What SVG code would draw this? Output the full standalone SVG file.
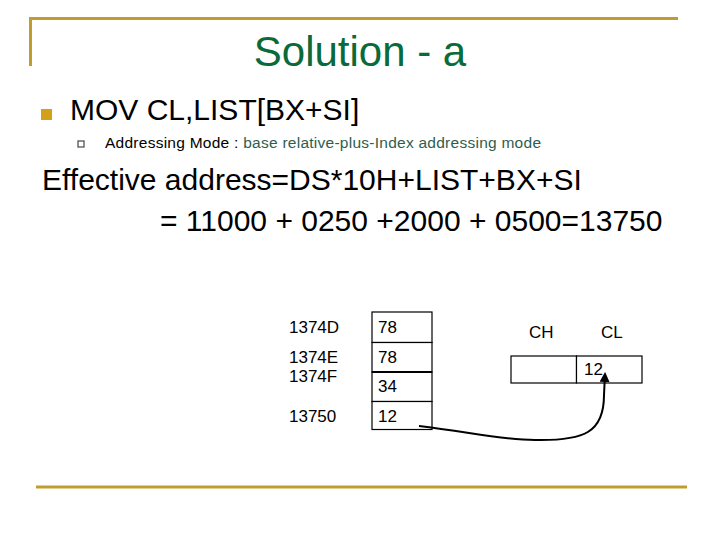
<svg xmlns="http://www.w3.org/2000/svg" width="720" height="540" viewBox="0 0 720 540">
<style>
text{font-family:"Liberation Sans",Arial,sans-serif;fill:#000}
.rule{stroke:#BF9D2E;stroke-width:3;fill:none}
.cell{fill:#fff;stroke:#000;stroke-width:1.2}
.lbl{font-size:17px}
.val{font-size:17px}
</style>
<defs>
<marker id="ah" viewBox="0 0 10 10" refX="8" refY="5" markerWidth="5" markerHeight="5" orient="auto">
<path d="M0,0 L10,5 L0,10 z" fill="#000"/>
</marker>
</defs>
<rect width="720" height="540" fill="#fff"/>
<g id="frame">
<path class="rule" d="M30.5,66 V18.5 H678"/>
<line class="rule" x1="36" y1="487" x2="687" y2="487"/>
</g>
<g id="title"><text x="360" y="66" font-size="42" text-anchor="middle" style="fill:#0A6A3A">Solution - a</text></g>
<g id="bullets">
<rect x="41" y="109" width="11" height="11" fill="#D4A017"/>
<text x="70" y="120" font-size="30">MOV CL,LIST[BX+SI]</text>
<rect x="78" y="141" width="6" height="6" fill="none" stroke="#4A5A4A" stroke-width="1.3"/>
<text x="105" y="148" font-size="15.5" textLength="436">Addressing Mode : <tspan style="fill:#2E5E4E">base relative-plus-Index addressing mode</tspan></text>
<text x="42" y="190" font-size="30">Effective address=DS*10H+LIST+BX+SI</text>
<text x="160" y="231" font-size="30">= 11000 + 0250 +2000 + 0500=13750</text>
</g>
<g id="memory">
<rect class="cell" x="372" y="312" width="60" height="30.5"/>
<rect class="cell" x="372" y="342.5" width="60" height="29.5"/>
<rect class="cell" x="372" y="372" width="60" height="29.5"/>
<rect class="cell" x="372" y="401.5" width="60" height="28"/>
<line x1="372" y1="372" x2="432" y2="372" stroke="#000" stroke-width="2"/>
<text class="lbl" x="289" y="333">1374D</text>
<text class="lbl" x="289" y="363">1374E</text>
<text class="lbl" x="289" y="382">1374F</text>
<text class="lbl" x="289" y="422">13750</text>
<text class="val" x="378" y="333">78</text>
<text class="val" x="378" y="363">78</text>
<text class="val" x="378" y="392">34</text>
<text class="val" x="378" y="422">12</text>
</g>
<g id="register">
<rect class="cell" x="511" y="356" width="65.5" height="27"/>
<rect class="cell" x="576.5" y="356" width="65.5" height="27"/>
<text class="val" x="529" y="338">CH</text>
<text class="val" x="601" y="338">CL</text>
<text class="val" x="584" y="375">12</text>
</g>
<g id="connectors">
<path d="M419,426 C470,432 500,440 535,440 C585,441 604,432 604,395 L605,374" fill="none" stroke="#000" stroke-width="2" marker-end="url(#ah)"/>
</g>
</svg>
